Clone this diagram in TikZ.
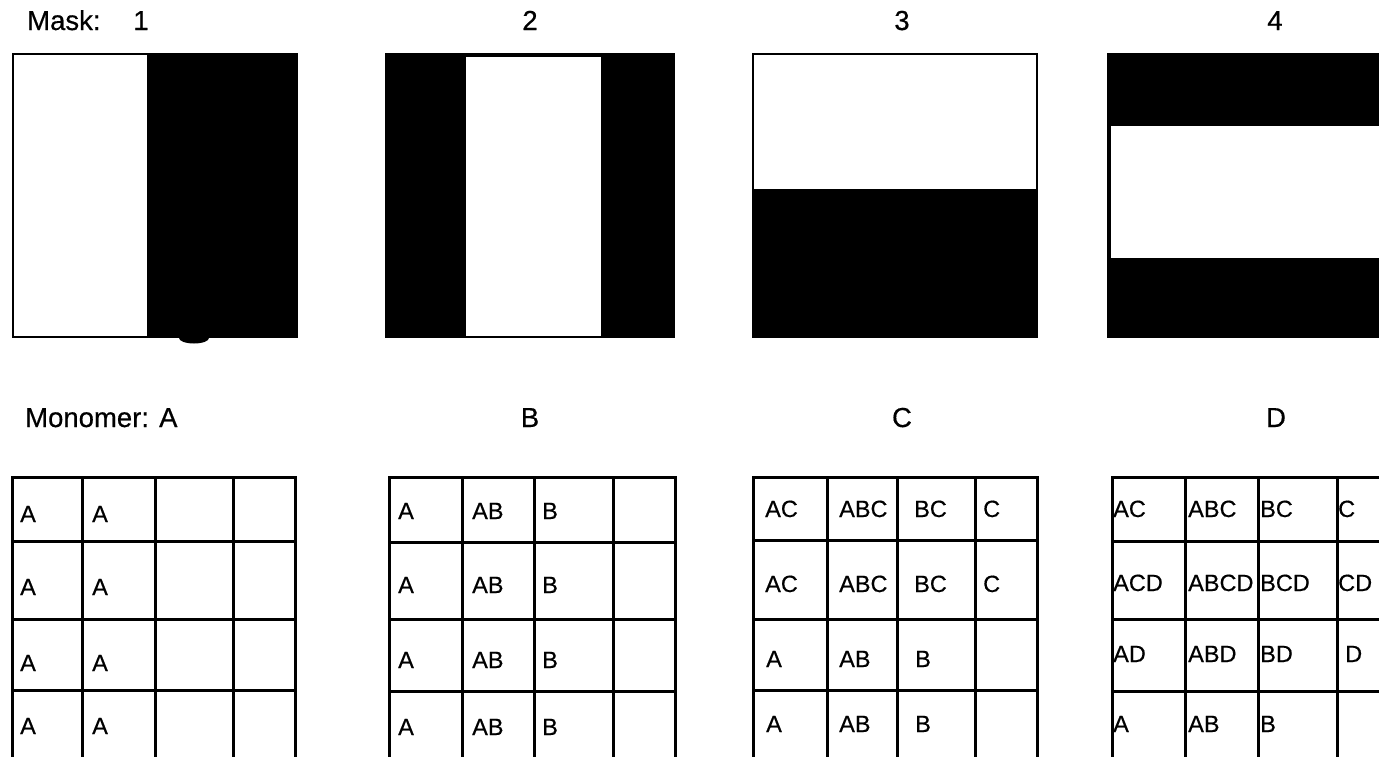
\documentclass[tikz,border=0pt]{standalone}
\usepackage{fontspec}
\setmainfont{Liberation Sans}
\newfontfamily\lblfont{Liberation Sans}[FakeBold=0.5]
\newfontfamily\cellfont{Liberation Sans}[FakeBold=0.5]
\begin{document}
\begin{tikzpicture}[x=1pt,y=-1pt,
  lbl/.style={font=\lblfont\fontsize{27.5}{32}\selectfont, inner sep=0pt, anchor=base west},
  numlbl/.style={font=\lblfont\fontsize{27.5}{32}\selectfont, inner sep=0pt, anchor=base},
  cell/.style={font=\cellfont\fontsize{23.5}{28}\selectfont, inner sep=0pt, anchor=base west},
  gridline/.style={line width=3pt},
  maskline/.style={line width=2.4pt}]
\useasboundingbox (0,0) rectangle (1379,756);
\clip (0,0) rectangle (1379,756);
\fill[white] (0,0) rectangle (1379,756);

% ---- labels ----
\node[lbl] (masklbl) at (27,30) {Mask:};
\node[numlbl] (m1) at (141,30) {1};
\node[numlbl] (m2) at (530,30) {2};
\node[numlbl] (m3) at (902,30) {3};
\node[numlbl] (m4) at (1275,30) {4};
\node[lbl] (monolbl) at (25,427) {Monomer: A};
\node[numlbl] (mB) at (530,427) {B};
\node[numlbl] (mC) at (902,427) {C};
\node[numlbl] (mD) at (1276,427) {D};

% ---- masks ----
% mask 1
\fill (147,53) rectangle (298,338);
\fill (194,338) ellipse [x radius=15, y radius=5.5];
\draw[maskline] (13,54) rectangle (297,337);
% mask 2
\fill (385,53) rectangle (675,338);
\fill[white] (466,57) rectangle (601,336);
% mask 3
\fill (752,189) rectangle (1038,338);
\draw[maskline] (753,54) rectangle (1037,337);
% mask 4
\fill (1107,53) rectangle (1400,338);
\fill[white] (1111,126) rectangle (1400,258);

% ---- grids ----
\foreach \xa/\xb/\xc/\xd/\xe/\ra/\rb/\rc in
  {12/82/155/233/295/541/619/690,
   389/462/534/613/675/542/619/691,
   753/827/897/975/1037/540/619/690,
   1112/1185/1258/1337/1400/541/619/691}{
  \foreach \xx in {\xa,\xb,\xc,\xd,\xe}
    \draw[gridline] (\xx,477) -- (\xx,790);
  \foreach \yy in {477,\ra,\rb,\rc}
    \draw[gridline,line cap=rect] (\xa,\yy) -- (\xe,\yy);
}

% grid 1 texts
\node[cell] (g1a1) at (20,522) {A};
\node[cell] (g1b1) at (92,522) {A};
\node[cell] (g1a2) at (20,595) {A};
\node[cell] (g1b2) at (92,595) {A};
\node[cell] (g1a3) at (20,671) {A};
\node[cell] (g1b3) at (92,671) {A};
\node[cell] (g1a4) at (20,734) {A};
\node[cell] (g1b4) at (92,734) {A};

% grid 2 texts
\node[cell] (g2a1) at (398,519) {A};
\node[cell] (g2b1) at (472,519) {AB};
\node[cell] (g2c1) at (542,519) {B};
\node[cell] (g2a2) at (398,593) {A};
\node[cell] (g2b2) at (472,593) {AB};
\node[cell] (g2c2) at (542,593) {B};
\node[cell] (g2a3) at (398,668) {A};
\node[cell] (g2b3) at (472,668) {AB};
\node[cell] (g2c3) at (542,668) {B};
\node[cell] (g2a4) at (398,735) {A};
\node[cell] (g2b4) at (472,735) {AB};
\node[cell] (g2c4) at (542,735) {B};

% grid 3 texts
\node[cell] (g3a1) at (765,517) {AC};
\node[cell] (g3b1) at (839,517) {ABC};
\node[cell] (g3c1) at (914,517) {BC};
\node[cell] (g3d1) at (983,517) {C};
\node[cell] (g3a2) at (765,592) {AC};
\node[cell] (g3b2) at (839,592) {ABC};
\node[cell] (g3c2) at (914,592) {BC};
\node[cell] (g3d2) at (983,592) {C};
\node[cell] (g3a3) at (766,667) {A};
\node[cell] (g3b3) at (839,667) {AB};
\node[cell] (g3c3) at (915,667) {B};
\node[cell] (g3a4) at (766,732) {A};
\node[cell] (g3b4) at (839,732) {AB};
\node[cell] (g3c4) at (915,732) {B};

% grid 4 texts
\node[cell] (g4a1) at (1113,517) {AC};
\node[cell] (g4b1) at (1188,517) {ABC};
\node[cell] (g4c1) at (1260,517) {BC};
\node[cell] (g4d1) at (1338,517) {C};
\node[cell] (g4a2) at (1113,591) {ACD};
\node[cell] (g4b2) at (1188,591) {ABCD};
\node[cell] (g4c2) at (1260,591) {BCD};
\node[cell] (g4d2) at (1338,591) {CD};
\node[cell] (g4a3) at (1113,662) {AD};
\node[cell] (g4b3) at (1188,662) {ABD};
\node[cell] (g4c3) at (1260,662) {BD};
\node[cell] (g4d3) at (1345,662) {D};
\node[cell] (g4a4) at (1113,732) {A};
\node[cell] (g4b4) at (1188,732) {AB};
\node[cell] (g4c4) at (1260,732) {B};
\end{tikzpicture}
\end{document}
